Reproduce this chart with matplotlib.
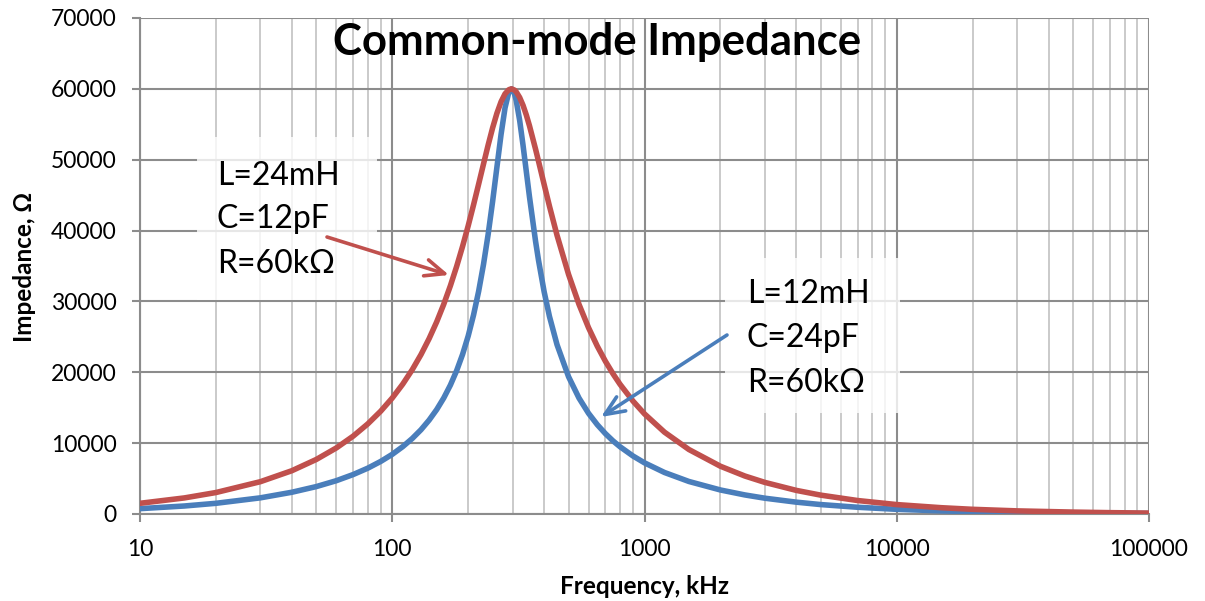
import matplotlib
matplotlib.use("Agg")
import matplotlib.pyplot as plt
from matplotlib.patches import Rectangle
from matplotlib.ticker import LogLocator, FixedLocator, FuncFormatter

plt.rcParams['font.family'] = ['Lato', 'DejaVu Sans']

# ---- data ----
freq_khz = [10, 15, 20, 30, 40, 50, 60, 70, 80, 90,
            100, 110, 120, 130, 140, 150, 160, 170, 180, 190,
            200, 210, 220, 230, 240, 250, 260, 270, 280, 290,
            297, 305, 310, 320, 330, 340, 350, 370, 380, 400,
            420, 450, 500, 550, 600, 650, 700, 750, 800, 900,
            1000, 1200, 1500, 2000, 2500, 3000, 4000, 5000, 7000, 10000,
            15000, 20000, 30000, 50000, 70000, 100000]
z_red = [1510, 2270, 3030, 4560, 6110, 7700, 9320, 10990, 12720, 14510,
         16370, 18320, 20360, 22500, 24750, 27110, 29600, 32210, 34940, 37770,
         40670, 43620, 46550, 49390, 52080, 54500, 56560, 58180, 59300, 59890,
         60000, 59830, 59580, 58780, 57670, 56310, 54780, 51480, 49800, 46510,
         43440, 39340, 33810, 29580, 26290, 23680, 21550, 19790, 18300, 15940,
         14130, 11550, 9100, 6740, 5360, 4460, 3330, 2660, 1900, 1330,
         890, 660, 440, 270, 190, 130]
z_blue = [755, 1130, 1510, 2280, 3070, 3870, 4700, 5570, 6470, 7420,
          8420, 9500, 10650, 11890, 13250, 14730, 16370, 18190, 20230, 22520,
          25120, 28070, 31420, 35220, 39480, 44130, 48960, 53570, 57330, 59570,
          60000, 59330, 58370, 55540, 52030, 48330, 44750, 38470, 35820, 31380,
          27880, 23900, 19370, 16360, 14210, 12600, 11340, 10320, 9490, 8190,
          7220, 5860, 4590, 3390, 2690, 2230, 1670, 1330, 950, 660,
          440, 330, 220, 130, 95, 70]
y_ticks = [0, 10000, 20000, 30000, 40000, 50000, 60000, 70000]
x_ticks = [10, 100, 1000, 10000, 100000]
title = "Common-mode Impedance"
xlabel = "Frequency, kHz"
ylabel = "Impedance, Ω"
red_label = ["L=24mH", "C=12pF", "R=60kΩ"]
blue_label = ["L=12mH", "C=24pF", "R=60kΩ"]

RED = "#C0504D"
BLUE = "#4A7EBB"

W, H = 1205, 601
fig = plt.figure(figsize=(W / 100, H / 100), dpi=100)
L, R, T, B = 140, 1149, 18, 514
ax = fig.add_axes([L / W, (H - B) / H, (R - L) / W, (B - T) / H])

def fx(px):
    return (px - L) / (R - L)

def fy(py):
    return (B - py) / (B - T)

ax.set_xscale('log')
ax.set_xlim(10, 100000)
ax.set_ylim(0, 70000)

ax.xaxis.set_major_locator(FixedLocator(x_ticks))
ax.xaxis.set_minor_locator(LogLocator(base=10, subs=range(2, 10), numticks=20))
ax.xaxis.set_major_formatter(FuncFormatter(lambda v, p: f"{int(round(v))}"))
ax.xaxis.set_minor_formatter(FuncFormatter(lambda v, p: ""))
ax.yaxis.set_major_locator(FixedLocator(y_ticks))
ax.yaxis.set_major_formatter(FuncFormatter(lambda v, p: f"{int(v)}"))

ax.set_axisbelow(True)
ax.grid(True, which='major', color='#8c8c8c', linewidth=1.5)
ax.grid(True, which='minor', axis='x', color='#c6c6c6', linewidth=1.3)

for s in ['top', 'right']:
    ax.spines[s].set_visible(False)
for s in ['left', 'bottom']:
    ax.spines[s].set_color('#8c8c8c')
    ax.spines[s].set_linewidth(1.5)

ax.tick_params(axis='both', which='major', direction='out', length=6,
               width=1.5, color='#8c8c8c', labelsize=16.5, labelcolor='black')
ax.tick_params(axis='x', which='major', pad=12)
ax.tick_params(axis='y', which='major', pad=11)
ax.tick_params(axis='x', which='minor', length=0)

# annotation background boxes
for (x0, x1, y0, y1) in [(197, 377, 137, 300), (725, 900, 258, 413)]:
    ax.add_patch(Rectangle((fx(x0), fy(y1)), fx(x1) - fx(x0), fy(y0) - fy(y1),
                           transform=ax.transAxes, facecolor='white',
                           edgecolor='none', alpha=0.8, zorder=1.2))

ax.plot(freq_khz, z_blue, color=BLUE, linewidth=4.0, zorder=3,
        solid_capstyle='round', solid_joinstyle='round')
ax.plot(freq_khz, z_red, color=RED, linewidth=4.0, zorder=3.1,
        solid_capstyle='round', solid_joinstyle='round')

# title
ax.text(fx(597), fy(42), title, transform=ax.transAxes, ha='center', va='center',
        fontsize=31.5, fontweight='bold', zorder=5)

# annotation text
for t, by in zip(red_label, [185, 228, 273]):
    ax.text(fx(217), fy(by), t, transform=ax.transAxes, ha='left', va='baseline',
            fontsize=23, zorder=5)
for t, by in zip(blue_label, [303, 347, 392]):
    ax.text(fx(747), fy(by), t, transform=ax.transAxes, ha='left', va='baseline',
            fontsize=23, zorder=5)

# arrows
astyle = '->,head_length=1.4,head_width=0.6'
ax.annotate("", xy=(fx(449), fy(275)), xytext=(fx(327), fy(237)),
            xycoords='axes fraction', textcoords='axes fraction',
            arrowprops=dict(arrowstyle=astyle, color=RED, lw=2.6,
                            shrinkA=0, shrinkB=0), zorder=4)
ax.annotate("", xy=(fx(601), fy(417)), xytext=(fx(727), fy(335)),
            xycoords='axes fraction', textcoords='axes fraction',
            arrowprops=dict(arrowstyle=astyle, color=BLUE, lw=2.6,
                            shrinkA=0, shrinkB=0), zorder=4)

ax.set_xlabel(xlabel, fontsize=17.5, fontweight='bold')
ax.set_ylabel(ylabel, fontsize=17.5, fontweight='bold')
ax.xaxis.set_label_coords(fx(645), fy(587))
ax.yaxis.set_label_coords(fx(25), fy(267))
ax.xaxis.label.set_va('center')
ax.yaxis.label.set_va('center')

fig.savefig("out.png", dpi=100, facecolor='white')
